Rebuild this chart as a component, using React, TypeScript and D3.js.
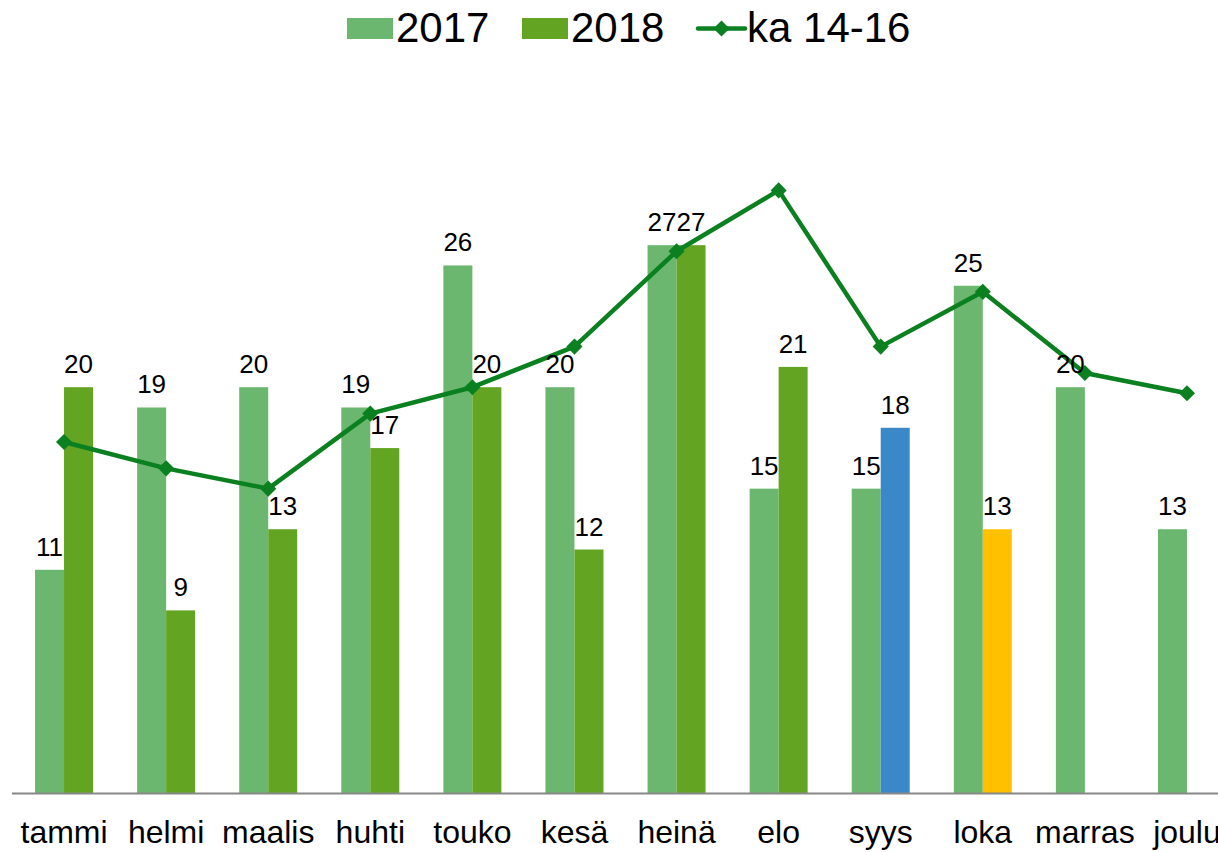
import React from "react";
import * as d3 from "d3";

const months = ["tammi", "helmi", "maalis", "huhti", "touko", "kesä", "heinä", "elo", "syys", "loka", "marras", "joulu"];
const values2017 = [11, 19, 20, 19, 26, 20, 27, 15, 15, 25, 20, 13];
const values2018: (number | null)[] = [20, 9, 13, 17, 20, 12, 27, 21, 18, 13, null, null];
const avg1416 = [17.3, 16.0, 15.0, 18.7, 20.0, 22.0, 26.7, 29.7, 22.0, 24.7, 20.7, 19.7];
const legendLabels = ["2017", "2018", "ka 14-16"];

const C2017 = "#6bb76f";
const C2018 = "#63a422";
const CBLUE = "#3b88c9";
const CYELLOW = "#ffc000";
const CLINE = "#0b8020";

const W = 1218;
const H = 852;
const FONT = "'Liberation Sans', Arial, Helvetica, sans-serif";

export default function App() {
  const x = d3.scalePoint<string>().domain(months).range([13, 1238]).padding(0.5);
  const y = d3.scaleLinear().domain([0, 30]).range([793, 793 - 30 * 20.29]);
  const bw = 29;
  const color2018 = (i: number) => (i === 8 ? CBLUE : i === 9 ? CYELLOW : C2018);

  const line = d3
    .line<number>()
    .x((_, i) => x(months[i])!)
    .y((d) => y(d));

  const diamond = d3.symbol().type(d3.symbolSquare).size(130);

  return (
    <svg width={W} height={H} style={{ position: "absolute", left: 0, top: 0 }} fontFamily={FONT}>
      <rect width={W} height={H} fill="#fff" />
      {/* bars */}
      {months.map((m, i) => {
        const cx = x(m)!;
        return (
          <g key={m}>
            <rect x={cx - bw} y={y(values2017[i])} width={bw} height={y(0) - y(values2017[i])} fill={C2017} />
            {values2018[i] != null && (
              <rect x={cx} y={y(values2018[i]!)} width={bw} height={y(0) - y(values2018[i]!)} fill={color2018(i)} />
            )}
          </g>
        );
      })}
      {/* axis */}
      <line x1={12} x2={W} y1={793.5} y2={793.5} stroke="#888" strokeWidth={2} />
      {months.map((m) => (
        <text key={m} x={x(m)!} y={843} textAnchor="middle" fontSize={32} fill="#000">
          {m}
        </text>
      ))}
      {/* line */}
      <path d={line(avg1416)!} fill="none" stroke={CLINE} strokeWidth={4.5} strokeLinejoin="round" />
      {avg1416.map((v, i) => (
        <path key={i} d={diamond()!} transform={`translate(${x(months[i])},${y(v)}) rotate(45)`} fill={CLINE} />
      ))}
      {/* data labels */}
      {months.map((m, i) => {
        const cx = x(m)!;
        return (
          <g key={"l" + m} fontSize={26} textAnchor="middle" fill="#000">
            <text x={cx - bw / 2} y={y(values2017[i]) - 14}>
              {values2017[i]}
            </text>
            {values2018[i] != null && (
              <text x={cx + bw / 2} y={y(values2018[i]!) - 14}>
                {values2018[i]}
              </text>
            )}
          </g>
        );
      })}
      {/* legend */}
      <g fontSize={42} fill="#000">
        <rect x={347} y={18} width={46} height={21} fill={C2017} />
        <text x={396} y={42}>{legendLabels[0]}</text>
        <rect x={522} y={18} width={46} height={21} fill={C2018} />
        <text x={571} y={42}>{legendLabels[1]}</text>
        <line x1={698} x2={745} y1={28.5} y2={28.5} stroke={CLINE} strokeWidth={4.5} strokeLinecap="round" />
        <path d={diamond()!} transform="translate(721.5,28.5) rotate(45)" fill={CLINE} />
        <text x={747} y={42}>{legendLabels[2]}</text>
      </g>
    </svg>
  );
}
